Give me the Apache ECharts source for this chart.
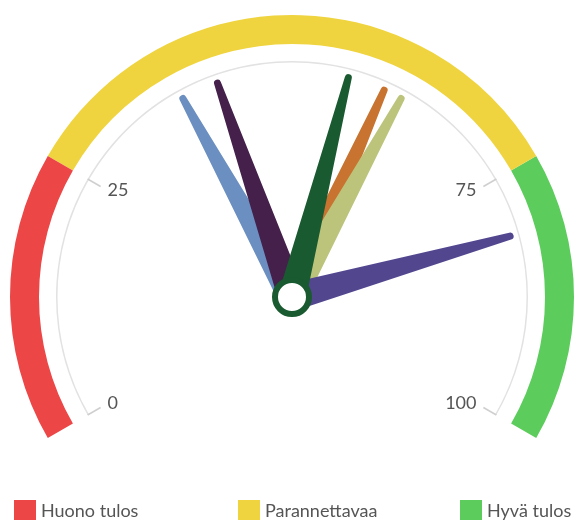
<!DOCTYPE html>
<html>
<head>
<meta charset="utf-8">
<script src="https://cdn.jsdelivr.net/npm/echarts@6/dist/echarts.min.js"></script>
<style>
  html, body { margin: 0; padding: 0; background: #fff; }
  #chart { width: 576px; height: 520px; }
</style>
</head>
<body>
<div id="chart"></div>
<script>
// gauge scale
const scaleMin = 0;
const scaleMax = 100;
const tickValues = [0, 25, 75, 100];

// coloured bands (upper bound of each band) + legend names
const bandNames = ['Huono tulos', 'Parannettavaa', 'Hyvä tulos'];
const bandLimits = [25, 75, 100];
const bandColors = ['#ec4646', '#efd43f', '#5ccd5c'];

// needles
const needleValues = [38, 42, 60, 62, 81, 56];
const needleColors = ['#6b8fc0', '#44204b', '#c8732f', '#bcc47b', '#52468f', '#195a30'];

const START = 210;
const END = -30;
const angleOf = v => START - (v - scaleMin) / (scaleMax - scaleMin) * (START - END);

const chart = echarts.init(document.getElementById('chart'));
const center = [292, 297];
const font = 'Lato, "Noto Sans", sans-serif';

const off = {
  axisTick: { show: false },
  splitLine: { show: false },
  axisLabel: { show: false },
  pointer: { show: false },
  anchor: { show: false },
  title: { show: false },
  detail: { show: false }
};

// tick segments: 0-25 and 75-100
const tickSeries = [];
for (let i = 0; i < tickValues.length; i += 2) {
  tickSeries.push(Object.assign({}, off, {
    type: 'gauge',
    center: center,
    radius: 236,
    startAngle: angleOf(tickValues[i]),
    endAngle: angleOf(tickValues[i + 1]),
    min: tickValues[i],
    max: tickValues[i + 1],
    splitNumber: 1,
    axisLine: { show: false, lineStyle: { width: 0 } },
    splitLine: { show: true, length: 15, distance: 0, lineStyle: { color: '#cfcfcf', width: 1.5 } },
    axisLabel: { show: true, distance: 8, color: '#555', fontSize: 18, fontFamily: font },
    data: []
  }));
}

const option = {
  animation: false,
  legend: bandNames.map((n, i) => ({
    data: [n],
    left: [9, 233, 455][i],
    top: 495,
    icon: 'rect',
    itemWidth: 22,
    itemHeight: 22,
    itemGap: 0,
    textStyle: { color: '#555', fontSize: 18, fontFamily: font }
  })),
  series: [
    // bands
    Object.assign({}, off, {
      type: 'gauge',
      center: center,
      radius: 282,
      startAngle: START,
      endAngle: END,
      min: scaleMin,
      max: scaleMax,
      axisLine: {
        lineStyle: {
          width: 29,
          color: bandLimits.map((l, i) => [(l - scaleMin) / (scaleMax - scaleMin), bandColors[i]])
        }
      },
      data: []
    }),
    // thin grey scale arc
    Object.assign({}, off, {
      type: 'gauge',
      center: center,
      radius: 236,
      startAngle: START,
      endAngle: END,
      min: scaleMin,
      max: scaleMax,
      axisLine: { lineStyle: { width: 1.5, color: [[1, '#e2e2e2']] } },
      data: []
    }),
    ...tickSeries,
    // needles
    Object.assign({}, off, {
      type: 'gauge',
      center: center,
      radius: 236,
      startAngle: START,
      endAngle: END,
      min: scaleMin,
      max: scaleMax,
      axisLine: { show: false, lineStyle: { width: 0 } },
      pointer: {
        show: true,
        icon: 'path://M10.5 3.5 A3.5 3.5 0 0 1 17.5 3.5 L28 230 L0 230 Z',
        width: 28,
        length: 230,
        offsetCenter: [0, 0]
      },
      anchor: {
        show: true,
        showAbove: true,
        size: 34,
        itemStyle: { color: '#fff', borderColor: '#195a30', borderWidth: 6 }
      },
      data: needleValues.map((v, i) => ({ value: v, itemStyle: { color: needleColors[i] } }))
    }),
    // hidden pie only to feed the legend
    {
      type: 'pie',
      center: [-200, -200],
      radius: [0, 1],
      silent: true,
      label: { show: false },
      labelLine: { show: false },
      data: bandNames.map((n, i) => ({ name: n, value: 1, itemStyle: { color: bandColors[i] } }))
    }
  ]
};

chart.setOption(option);
</script>
</body>
</html>
